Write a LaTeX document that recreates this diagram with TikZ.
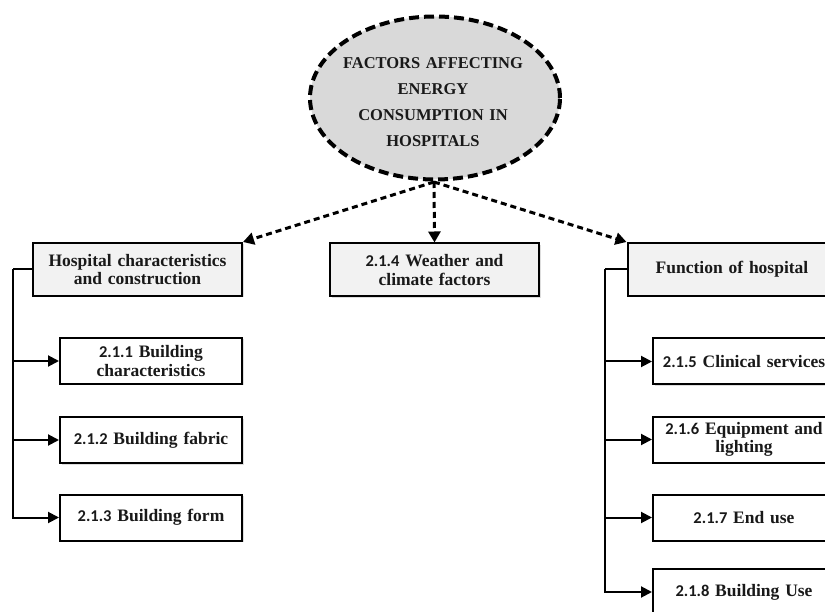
\documentclass[tikz,border=0pt]{standalone}
\usepackage{fontspec}
\setmainfont{Liberation Serif}
\newfontfamily\numfont{Carlito}
\usetikzlibrary{arrows.meta,shapes.geometric,shadows}

\definecolor{ovalgray}{RGB}{217,217,217}
\definecolor{headgray}{RGB}{242,242,242}
\definecolor{inkdark}{RGB}{25,25,25}

\newcommand{\secno}[1]{{\numfont\fontsize{16.5pt}{18pt}\selectfont #1}}

\tikzset{
  softshadow/.style={drop shadow={shadow xshift=1.5pt,shadow yshift=-1.5pt,opacity=0.22,fill=black!60}},
  topic/.style={ellipse,draw=black,fill=ovalgray,line width=4pt,
    dash pattern=on 10pt off 5pt,inner sep=0pt,minimum width=250pt,minimum height=163pt},
  topictext/.style={text width=190pt,align=center,text=inkdark,inner sep=0pt,
    font=\bfseries\fontsize{16.5pt}{26pt}\selectfont},
  headbox/.style={rectangle,draw=black,fill=headgray,line width=2pt,
    minimum width=209pt,minimum height=53pt,inner sep=2pt,text width=200pt,align=center,
    text=inkdark,font=\bfseries\fontsize{17.5pt}{18.5pt}\selectfont,softshadow},
  itembox/.style={rectangle,draw=black,fill=white,line width=2pt,
    minimum width=182pt,minimum height=46pt,inner sep=2pt,text width=178pt,align=center,
    text=inkdark,font=\bfseries\fontsize{17.5pt}{18.5pt}\selectfont,softshadow},
  dashlink/.style={line width=3pt,dash pattern=on 6pt off 4pt,
    -{Triangle[length=11pt,width=12pt]}},
  treeline/.style={line width=2pt},
  treearrow/.style={line width=2pt,-{Triangle[length=11pt,width=11pt]}}
}

\begin{document}
\begin{tikzpicture}[x=1pt,y=-1pt]
  \useasboundingbox (0,0) rectangle (825,612);
  \clip (0,0) rectangle (825,612);
  \fill[white] (0,0) rectangle (825,612);

  % central topic
  \node[topic] (top) at (435,98) {};
  \node[topictext] (toptext) at (433,102) {FACTORS AFFECTING\\ENERGY\\CONSUMPTION IN\\HOSPITALS};

  % first level
  \node[headbox] (hosp) at (137.5,269.5) {Hospital characteristics\\and construction};
  \node[headbox] (wthr) at (434.5,270) {\secno{2.1.4} Weather and\\climate factors};
  \node[headbox] (func) at (732,269.5) {Function of hospital};

  % left branch items
  \node[itembox] (b1) at (151,361) {\secno{2.1.1} Building\\characteristics};
  \node[itembox] (b2) at (151,440) {\secno{2.1.2} Building fabric};
  \node[itembox] (b3) at (151,517.5) {\secno{2.1.3} Building form};

  % right branch items
  \node[itembox] (f1) at (744,361.5) {\secno{2.1.5} Clinical services};
  \node[itembox] (f2) at (744,439.5) {\secno{2.1.6} Equipment and\\lighting};
  \node[itembox] (f3) at (744,517.5) {\secno{2.1.7} End use};
  \node[itembox] (f4) at (744,592) {\secno{2.1.8} Building Use};

  % dashed links from the topic
  \coordinate (root) at (434,182);
  \draw[dashlink] (root) -- (hosp.north east);
  \draw[dashlink] (root) -- (wthr.north);
  \draw[dashlink] (root) -- (func.north west);

  % left tree
  \coordinate (lt) at (13,269.5);
  \coordinate (l1) at (13,361);
  \coordinate (l2) at (13,440);
  \draw[treeline] (hosp.west) -- (lt);
  \draw[treearrow] (lt) |- (b3.west);
  \draw[treearrow] (l1) -- (b1.west);
  \draw[treearrow] (l2) -- (b2.west);

  % right tree
  \coordinate (rt) at (605,269.5);
  \coordinate (r1) at (605,361.5);
  \coordinate (r2) at (605,439.5);
  \coordinate (r3) at (605,517.5);
  \draw[treeline] (func.west) -- (rt);
  \draw[treearrow] (rt) |- (f4.west);
  \draw[treearrow] (r1) -- (f1.west);
  \draw[treearrow] (r2) -- (f2.west);
  \draw[treearrow] (r3) -- (f3.west);
\end{tikzpicture}
\end{document}
